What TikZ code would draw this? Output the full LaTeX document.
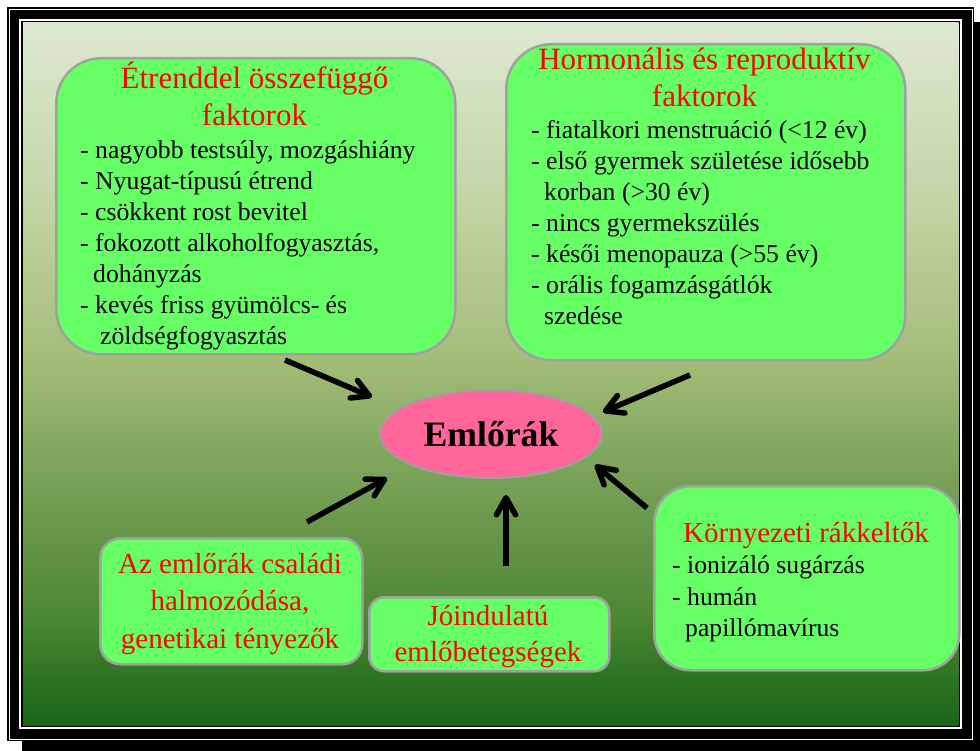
\documentclass[tikz,border=0pt]{standalone}
\usepackage{fontspec}
\setmainfont{Liberation Serif}
\usetikzlibrary{arrows.meta,shapes.geometric}

\definecolor{boxgreen}{RGB}{102,255,102}
\definecolor{boxgray}{RGB}{160,160,160}
\definecolor{pinkfill}{RGB}{255,102,153}
\definecolor{titlered}{RGB}{255,0,0}

% background: pale sage at the top down to deep green at the bottom
\pgfdeclareverticalshading{bgshade}{100bp}{
  rgb(0bp)=(0.10,0.40,0.10);
  rgb(25bp)=(0.10,0.40,0.10);
  rgb(28.3bp)=(0.17,0.45,0.13);
  rgb(32.6bp)=(0.30,0.53,0.20);
  rgb(36.9bp)=(0.37,0.57,0.26);
  rgb(42.5bp)=(0.47,0.63,0.34);
  rgb(51.1bp)=(0.64,0.74,0.47);
  rgb(63.1bp)=(0.77,0.84,0.66);
  rgb(75bp)=(0.87,0.91,0.82);
  rgb(100bp)=(0.87,0.91,0.82)}

\tikzset{
  gbox/.style={draw=boxgray, line width=2.5pt, fill=boxgreen,
    anchor=north west, inner sep=0pt},
  ttl/.style={text=titlered, font=\fontsize{31}{37}\selectfont,
    anchor=base, inner sep=0pt},
  ttlsmall/.style={ttl, font=\fontsize{29}{37}\selectfont},
  txt/.style={text=black, font=\fontsize{25.7}{31}\selectfont,
    anchor=base west, inner sep=0pt},
  push/.style={line width=5.5pt,
    -{Straight Barb[length=17pt,width=19pt,round]}},
}

\begin{document}
\begin{tikzpicture}[x=1pt,y=-1pt]
\useasboundingbox (0,0) rectangle (980,751);

% frame with drop shadow and double white rules
\fill[black] (22,22) rectangle (980,751);
\fill[black] (7,7) rectangle (974,741);
\draw[white, line width=1pt] (9.5,9.5) rectangle (972,739);
\draw[white, line width=2pt] (20,20) rectangle (961,728);
\shade[shading=bgshade] (23,23) rectangle (958.5,725.5);

% boxes
\node[gbox, rounded corners=45pt, minimum width=399pt, minimum height=296pt]
  (diet) at (55,57) {};
\node[gbox, rounded corners=45pt, minimum width=399pt, minimum height=316pt]
  (horm) at (505,43) {};
\node[gbox, rounded corners=20pt, minimum width=262pt, minimum height=126pt]
  (fam) at (99,537) {};
\node[gbox, rounded corners=15pt, minimum width=240pt, minimum height=74pt]
  (benign) at (368,596) {};
\node[gbox, rounded corners=36pt, minimum width=305pt, minimum height=184pt]
  (env) at (653,485) {};

% centre
\node[ellipse, draw=boxgray, line width=2pt, fill=pinkfill,
  minimum width=222pt, minimum height=88pt, inner sep=0pt,
  font=\fontsize{35.7}{40}\selectfont\bfseries] (bc) at (491,434) {Emlőrák};

% diet-related factors
\node[ttl] (d0) at (254.5,89) {Étrenddel összefüggő};
\node[ttl] (d00) at (254.5,126) {faktorok};
\node[txt] (d1) at (80,159) {- nagyobb testsúly, mozgáshiány};
\node[txt] (d2) at (80,190) {- Nyugat-típusú étrend};
\node[txt] (d3) at (80,221) {- csökkent rost bevitel};
\node[txt] (d4) at (80,251.7) {- fokozott alkoholfogyasztás,};
\node[txt] (d5) at (93,282.6) {dohányzás};
\node[txt] (d6) at (80,313.5) {- kevés friss gyümölcs- és};
\node[txt] (d7) at (100,344.4) {zöldségfogyasztás};

% hormonal and reproductive factors
\node[ttl] (h0) at (704.5,69.3) {Hormonális és reproduktív};
\node[ttl] (h00) at (704.5,106.7) {faktorok};
\node[txt] (h1) at (531,138.3) {- fiatalkori menstruáció (<12 év)};
\node[txt] (h2) at (531,169.3) {- első gyermek születése idősebb};
\node[txt] (h3) at (544,200.5) {korban (>30 év)};
\node[txt] (h4) at (531,231.7) {- nincs gyermekszülés};
\node[txt] (h5) at (531,262.7) {- késői menopauza (>55 év)};
\node[txt] (h6) at (531,294) {- orális fogamzásgátlók};
\node[txt] (h7) at (544,325) {szedése};

% familial clustering
\node[ttlsmall] (f1) at (230,573.3) {Az emlőrák családi};
\node[ttlsmall] (f2) at (230,610.3) {halmozódása,};
\node[ttlsmall] (f3) at (230,648.3) {genetikai tényezők};

% benign breast disease
\node[ttlsmall] (b1) at (488,625) {Jóindulatú};
\node[ttlsmall] (b2) at (488,661.7) {emlőbetegségek};

% environmental carcinogens
\node[ttlsmall] (e0) at (806,542) {Környezeti rákkeltők};
\node[txt] (e1) at (672,573.3) {- ionizáló sugárzás};
\node[txt] (e2) at (672,605) {- humán};
\node[txt] (e3) at (685,636) {papillómavírus};

% arrow end points
\coordinate (a1s) at (285,360);  \coordinate (a1e) at (372,397);
\coordinate (a2s) at (690,375);  \coordinate (a2e) at (603,412);
\coordinate (a3s) at (307,522);  \coordinate (a3e) at (387,478);
\coordinate (a4s) at (506,566);  \coordinate (a4e) at (506,495);
\coordinate (a5s) at (647,508);  \coordinate (a5e) at (595,465);

\draw[push] (a1s) -- (a1e);
\draw[push] (a2s) -- (a2e);
\draw[push] (a3s) -- (a3e);
\draw[push] (a4s) -- (a4e);
\draw[push] (a5s) -- (a5e);
\end{tikzpicture}
\end{document}
